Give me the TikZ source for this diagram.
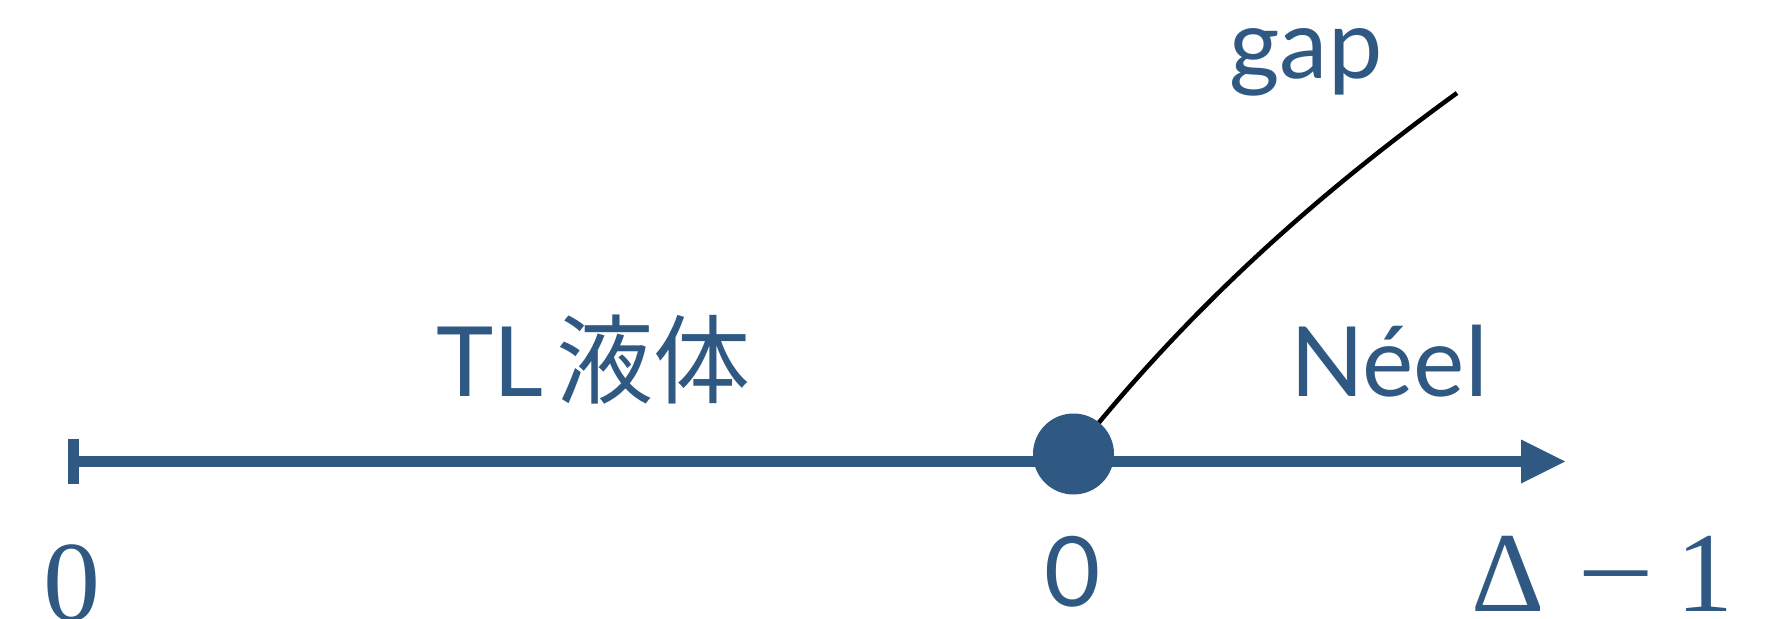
\documentclass[tikz,border=0pt]{standalone}
\usepackage{fontspec}
\usepackage{graphicx}
\setmainfont{Lato}
\newfontfamily\cjk{Noto Sans CJK JP}
\newfontfamily\serifnum{Liberation Serif}
\usetikzlibrary{arrows.meta}
\definecolor{axisblue}{RGB}{47,89,130}
\begin{document}
\begin{tikzpicture}[x=1pt,y=-1pt,
  lbl/.style={text=axisblue, inner sep=0pt, anchor=base, font=\fontsize{97}{100}\selectfont},
  num/.style={text=axisblue, inner sep=0pt, anchor=base, font=\serifnum\fontsize{114}{120}\selectfont},
  axisline/.style={draw=axisblue, line width=10.7pt},
  tickbar/.style={draw=axisblue, line width=11pt},
  phaseline/.style={draw=black, line width=4.5pt},
  critdot/.style={circle, fill=axisblue, minimum size=81pt, inner sep=0pt},
  ]
\useasboundingbox (0,0) rectangle (1768,618);
\coordinate (a0) at (73,461.5);
\coordinate (a1) at (1565,461.5);
\coordinate (t0) at (73,439);
\coordinate (t1) at (73,484);
\coordinate (c0) at (1073.5,454);
\coordinate (g1) at (1457,93);
\draw[axisline, -{Triangle[length=44pt,width=44pt,line width=0pt]}] (a0) -- (a1);
\draw[tickbar] (t0) -- (t1);
\draw[phaseline] (c0) .. controls (1195,300) and (1330,185) .. (g1);
\node[critdot] (dot) at (c0) {};
\node[lbl, anchor=base west] (tl) at (436,396) {TL\hspace{13pt}{\cjk 液体}};
\node[lbl] (neel) at (1389,396) {Néel};
\node[lbl] (gap) at (1306,78) {gap};
\node[lbl] (z1) at (1073,606) {0};
\node[num] (z0) at (72,620) {0};
\node[num, anchor=base west] (d1) at (1471,611) {Δ\hspace{33pt}\scalebox{1.2}[1]{−}\hspace{22pt}1};
\end{tikzpicture}
\end{document}
